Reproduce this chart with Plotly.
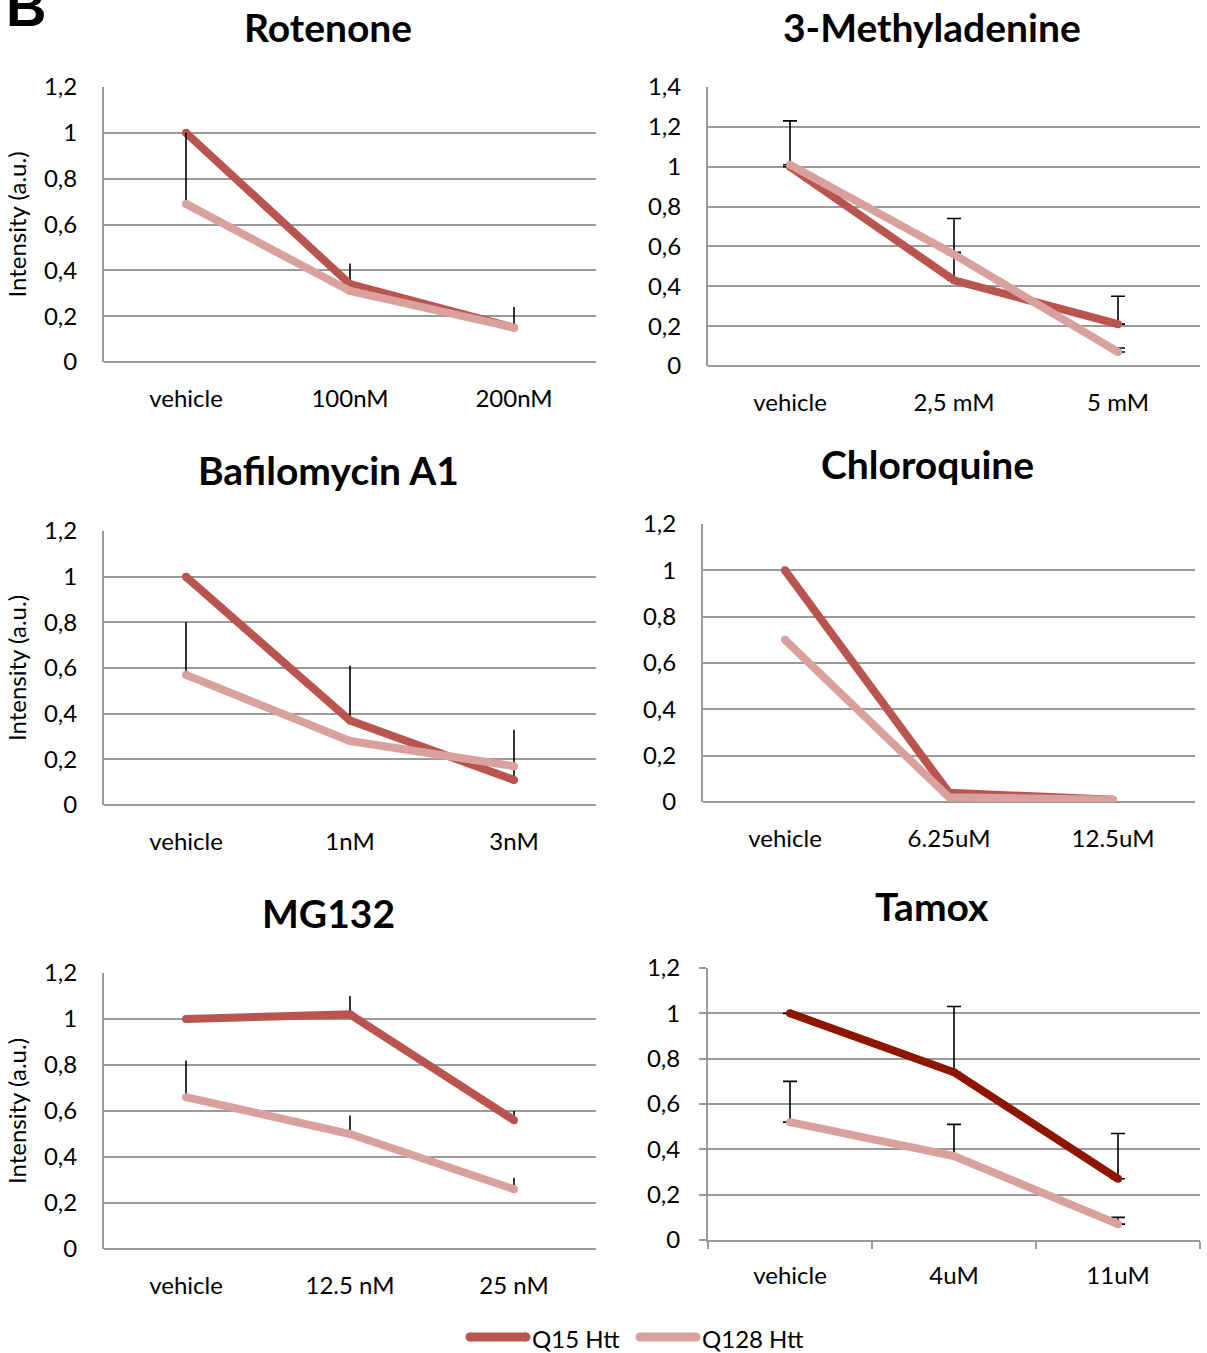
import plotly.graph_objects as go

W, H = 1207, 1353

# ---------------- data ----------------
titles = ["Rotenone", "3-Methyladenine", "Bafilomycin A1", "Chloroquine", "MG132", "Tamox"]
series_names = ["Q15 Htt", "Q128 Htt"]

cats_rot = ["vehicle", "100nM", "200nM"]
q15_rot = [1.0, 0.34, 0.15]
q128_rot = [0.69, 0.31, 0.15]
err15_rot = [0, 0.09, 0]
err128_rot = [0.31, 0, 0.09]

cats_3ma = ["vehicle", "2,5 mM", "5 mM"]
q15_3ma = [1.0, 0.43, 0.21]
q128_3ma = [1.01, 0.56, 0.07]
err15_3ma = [0.23, 0.14, 0.14]
err128_3ma = [0, 0.18, 0.02]

cats_baf = ["vehicle", "1nM", "3nM"]
q15_baf = [1.0, 0.37, 0.11]
q128_baf = [0.57, 0.28, 0.17]
err15_baf = [0, 0.24, 0.22]
err128_baf = [0.23, 0, 0]

cats_cq = ["vehicle", "6.25uM", "12.5uM"]
q15_cq = [1.0, 0.04, 0.01]
q128_cq = [0.70, 0.02, 0.01]

cats_mg = ["vehicle", "12.5 nM", "25 nM"]
q15_mg = [1.0, 1.02, 0.56]
q128_mg = [0.66, 0.50, 0.26]
err15_mg = [0, 0.08, 0.04]
err128_mg = [0.16, 0.08, 0.05]

cats_tam = ["vehicle", "4uM", "11uM"]
q15_tam = [1.0, 0.74, 0.27]
q128_tam = [0.52, 0.37, 0.07]
err15_tam = [0, 0.29, 0.20]
err128_tam = [0.18, 0.14, 0.03]

yticks12 = [0, 0.2, 0.4, 0.6, 0.8, 1.0, 1.2]
yticks14 = [0, 0.2, 0.4, 0.6, 0.8, 1.0, 1.2, 1.4]
ylabels12 = ["0", "0,2", "0,4", "0,6", "0,8", "1", "1,2"]
ylabels14 = ["0", "0,2", "0,4", "0,6", "0,8", "1", "1,2", "1,4"]

# ---------------- style ----------------
C15 = "#B9544E"
C128 = "#D9A19D"
C15_TAM = "#8E1500"
GRID = "#9A9A9A"
FONT = "Lato"
TICK_SIZE = 24

# panel geometry in pixels: left, right, top(ymax), bottom(0), title y, ymax
panels = [
    dict(l=104, r=596, t=87, b=362, ty=27, ymax=1.2),
    dict(l=708, r=1200, t=87, b=366, ty=27, ymax=1.4),
    dict(l=104, r=596, t=531, b=805, ty=470, ymax=1.2),
    dict(l=703, r=1195, t=524, b=802, ty=464, ymax=1.2),
    dict(l=104, r=596, t=973, b=1249, ty=913, ymax=1.2),
    dict(l=708, r=1200, t=968, b=1240, ty=906, ymax=1.2),
]

series = [
    (cats_rot, q15_rot, q128_rot, err15_rot, err128_rot, False),
    (cats_3ma, q15_3ma, q128_3ma, err15_3ma, err128_3ma, True),
    (cats_baf, q15_baf, q128_baf, err15_baf, err128_baf, False),
    (cats_cq, q15_cq, q128_cq, None, None, False),
    (cats_mg, q15_mg, q128_mg, err15_mg, err128_mg, False),
    (cats_tam, q15_tam, q128_tam, err15_tam, err128_tam, True),
]

fig = go.Figure()
layout = dict(
    width=W, height=H, margin=dict(l=0, r=0, t=0, b=0, autoexpand=False),
    paper_bgcolor="white", plot_bgcolor="white",
    showlegend=False, font=dict(family=FONT, color="black"),
)
annotations = []
shapes = []

for i, (p, s) in enumerate(zip(panels, series)):
    k = "" if i == 0 else str(i + 1)
    cats, a, b, ea, eb, caps = s
    xa, ya = "x" + k, "y" + k
    c15 = C15_TAM if i == 5 else C15
    capw = 7 if caps else 0

    def err(e):
        if e is None:
            return None
        return dict(type="data", array=e, arrayminus=[0] * len(e), symmetric=False,
                    color="black", thickness=1.6, width=capw, visible=True)

    fig.add_trace(go.Scatter(x=cats, y=a, mode="lines+markers", xaxis=xa, yaxis=ya,
                             line=dict(color=c15, width=8), error_y=err(ea),
                             marker=dict(color=c15, size=8, line=dict(width=0)),
                             name=series_names[0]))
    fig.add_trace(go.Scatter(x=cats, y=b, mode="lines+markers", xaxis=xa, yaxis=ya,
                             line=dict(color=C128, width=8), error_y=err(eb),
                             marker=dict(color=C128, size=8, line=dict(width=0)),
                             name=series_names[1]))

    tam = (i == 5)
    layout["xaxis" + k] = dict(
        domain=[p["l"] / W, p["r"] / W], anchor=ya, type="category",
        range=[-0.5, 2.5], showgrid=False, zeroline=False,
        showline=tam, linecolor=GRID, linewidth=2,
        ticks="outside" if tam else "", tickson="boundaries" if tam else None,
        ticklen=7, tickcolor=GRID, tickwidth=2,
        tickfont=dict(family=FONT, size=TICK_SIZE, color="black"),
        ticklabelstandoff=20 if not tam else 13,
    )
    ticks = yticks14 if p["ymax"] > 1.3 else yticks12
    labs = ylabels14 if p["ymax"] > 1.3 else ylabels12
    layout["yaxis" + k] = dict(
        domain=[1 - p["b"] / H, 1 - p["t"] / H], anchor=xa,
        range=[0, p["ymax"]], tickvals=ticks, ticktext=labs,
        showgrid=True, gridcolor=GRID, gridwidth=2,
        zeroline=True, zerolinecolor=GRID, zerolinewidth=2,
        showline=True, linecolor=GRID, linewidth=2,
        ticks="outside" if tam else "", ticklen=7, tickcolor=GRID, tickwidth=2,
        tickfont=dict(family=FONT, size=TICK_SIZE, color="black"),
        ticklabelstandoff=20 if not tam else 14,
        title=dict(text="Intensity (a.u.)", font=dict(family=FONT, size=24, color="black"), standoff=11)
        if i in (0, 2, 4) else None,
    )
    annotations.append(dict(
        text="<b>" + titles[i] + "</b>", xref="paper", yref="paper",
        x=((p["l"] + p["r"]) / 2 - 22) / W, y=1 - p["ty"] / H,
        xanchor="center", yanchor="middle", showarrow=False,
        font=dict(family=FONT, size=39, color="black"),
    ))

# manual legend at the bottom
LEG_Y = 1337
legend_items = [(series_names[0], C15, 470, 526), (series_names[1], C128, 640, 696)]
for name, col, x0, x1 in legend_items:
    shapes.append(dict(type="line", xref="paper", yref="paper",
                       x0=x0 / W, x1=x1 / W, y0=1 - LEG_Y / H, y1=1 - LEG_Y / H,
                       line=dict(color=col, width=9)))
    for xe in (x0, x1):
        shapes.append(dict(type="circle", xref="paper", yref="paper",
                           x0=(xe - 4.5) / W, x1=(xe + 4.5) / W,
                           y0=1 - (LEG_Y + 4.5) / H, y1=1 - (LEG_Y - 4.5) / H,
                           fillcolor=col, line=dict(width=0)))
    annotations.append(dict(text=name, xref="paper", yref="paper",
                            x=(x1 + 5) / W, y=1 - (LEG_Y + 1) / H, xanchor="left", yanchor="middle",
                            showarrow=False, borderpad=0,
                            font=dict(family=FONT, size=24, color="black")))

# cut-off panel letter at top-left (partially outside the page, as in the original)
annotations.append(dict(
    text="<b>B</b>", xref="paper", yref="paper", x=4 / W, y=1 - 40 / H,
    xanchor="left", yanchor="bottom", showarrow=False,
    font=dict(family="Liberation Sans", size=56, color="black"),
))

layout["annotations"] = annotations
layout["shapes"] = shapes
fig.update_layout(**layout)
fig.write_html("out.html")
